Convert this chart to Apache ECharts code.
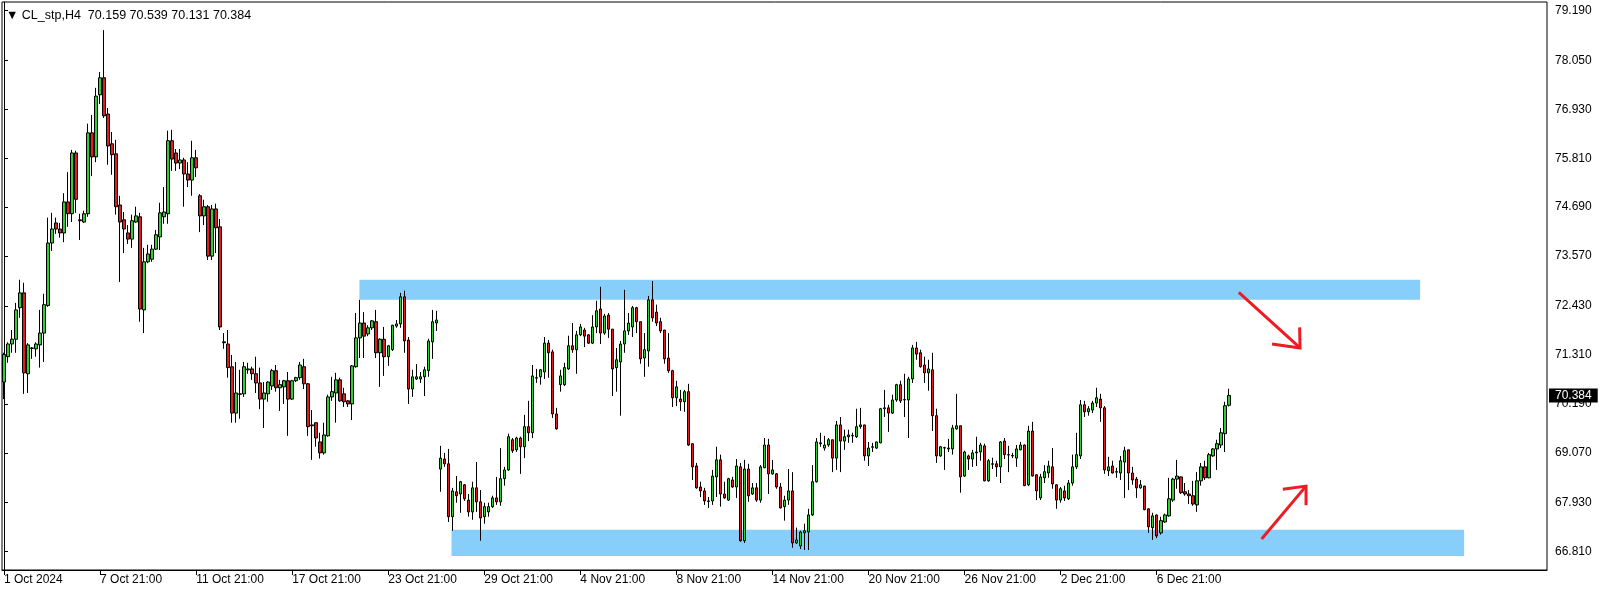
<!DOCTYPE html>
<html><head><meta charset="utf-8">
<script src="https://cdn.jsdelivr.net/npm/echarts@6/dist/echarts.min.js"></script>
<style>html,body{margin:0;padding:0;background:#fff}#c{width:1604px;height:594px}</style>
</head><body><div id="c"></div><script>
const symbolName = 'CL_stp', timeframe = 'H4';
const tickLabels = ['1 Oct 2024','7 Oct 21:00','11 Oct 21:00','17 Oct 21:00','23 Oct 21:00','29 Oct 21:00','4 Nov 21:00','8 Nov 21:00','14 Nov 21:00','20 Nov 21:00','26 Nov 21:00','2 Dec 21:00','6 Dec 21:00'];
const barsPerLabel = 24;
const priceTicks = [79.19, 78.05, 76.93, 75.81, 74.69, 73.57, 72.43, 71.31, 70.19, 69.07, 67.93, 66.81];

const opens = [
70.69,71.27,71.56,71.67,72.39,72.73,70.88,71.47,71.45,71.54,
71.81,72.44,73.87,74.33,74.19,74.10,74.81,74.54,75.93,74.40,
74.35,74.54,76.39,75.84,77.26,77.65,76.82,76.14,75.91,74.74,
74.40,74.10,73.96,74.35,74.47,72.34,73.44,73.50,73.73,74.01,
74.47,74.54,76.21,75.93,75.70,75.77,75.45,75.31,75.82,74.95,
74.49,74.70,73.57,74.65,74.24,71.61,71.56,71.04,69.98,70.42,
70.42,70.97,70.99,70.88,70.67,70.30,70.42,70.60,70.95,70.56,
70.58,70.72,70.30,70.72,70.79,71.04,70.65,69.69,69.76,69.32,
69.07,69.46,70.35,70.44,70.74,70.42,70.26,70.19,71.04,71.70,
72.04,71.79,71.93,72.07,71.36,71.67,71.27,71.43,71.97,72.02,
72.64,71.65,70.53,70.76,70.76,70.81,70.95,71.61,72.04,68.70,
68.93,68.82,67.61,68.18,68.13,68.34,67.99,67.72,68.27,67.95,
67.61,67.72,67.84,68.04,67.95,68.48,68.68,69.37,69.14,69.41,
69.21,69.67,69.53,70.79,70.81,70.92,71.58,71.38,69.96,70.63,
70.63,70.99,71.52,71.43,71.77,71.88,71.77,71.58,71.95,72.36,
71.81,72.22,71.90,71.02,71.15,71.56,71.86,71.95,72.39,72.07,
71.24,71.40,72.57,72.29,72.07,71.88,71.24,70.95,70.33,70.30,
70.24,70.47,69.28,68.77,68.29,68.20,67.97,67.97,68.52,68.91,
68.13,67.99,68.45,68.29,68.75,67.06,68.70,68.13,68.27,67.99,
68.73,69.25,68.59,68.59,68.29,67.84,67.99,68.20,67.01,66.94,
67.24,67.26,67.65,68.41,69.28,69.18,69.25,69.37,68.95,69.71,
69.34,69.44,69.46,69.44,69.67,69.71,69.00,69.21,69.18,69.30,
70.08,70.10,69.98,70.28,70.63,70.28,70.28,70.76,71.47,71.36,
71.08,70.90,70.97,69.92,69.00,69.18,69.16,69.16,69.62,69.69,
68.54,69.00,68.93,69.07,69.09,69.23,68.43,68.82,68.82,68.75,
69.34,69.03,69.00,68.95,69.14,69.25,68.34,69.57,68.57,68.04,
68.50,68.61,68.75,68.34,67.99,68.20,68.02,68.38,68.75,69.00,
70.17,70.01,70.05,70.21,70.30,70.10,68.66,68.77,68.64,68.61,
68.86,69.14,68.61,68.47,68.27,68.31,67.79,67.36,67.65,67.24,
67.49,67.63,67.99,68.47,68.52,68.18,68.13,68.09,67.88,68.43,
68.75,68.50,69.00,69.16,69.25,69.51,70.159];

const closes = [
71.32,71.56,71.67,72.34,72.73,70.90,71.54,71.46,71.56,71.81,
72.46,73.87,74.19,74.19,74.10,74.81,74.54,75.93,74.87,74.38,
74.54,76.39,75.84,77.23,77.65,76.78,76.09,75.89,74.70,74.35,
74.19,73.96,74.38,74.49,72.36,73.44,73.62,73.73,74.06,74.56,
74.58,76.21,75.79,75.70,75.77,75.45,75.31,75.82,75.59,74.49,
74.70,73.57,74.65,74.22,71.95,71.59,71.02,69.98,70.44,70.41,
71.04,70.99,70.88,70.67,70.30,70.44,70.69,70.95,70.56,70.63,
70.72,70.30,70.72,70.79,71.08,70.65,69.67,69.71,69.41,69.07,
69.48,70.35,70.47,70.74,70.26,70.24,70.19,71.06,71.70,72.04,
71.74,71.93,72.09,71.36,71.67,71.27,71.52,71.99,72.02,72.64,
71.63,70.53,70.81,70.81,70.81,70.97,71.63,72.07,72.11,68.95,
68.82,67.61,68.20,68.09,68.41,68.02,67.72,68.27,67.95,67.58,
67.84,67.84,68.04,67.95,68.48,68.68,69.44,69.12,69.41,69.21,
69.67,69.53,70.83,70.78,70.97,71.58,71.36,69.96,69.62,70.83,
71.02,71.52,71.43,71.77,71.95,71.74,71.58,71.95,72.32,71.81,
72.20,71.90,70.99,71.20,71.56,71.86,72.04,72.39,72.07,71.22,
71.43,72.57,72.16,72.04,71.86,71.22,70.95,70.33,70.58,70.24,
70.47,69.25,68.75,68.27,68.20,67.97,67.96,68.54,68.91,68.13,
68.04,68.48,68.29,68.77,67.06,68.70,68.09,68.27,67.99,68.75,
69.25,68.59,68.68,68.29,67.81,67.99,68.20,67.01,67.08,67.26,
67.29,67.65,68.41,69.32,69.30,69.25,69.37,68.95,69.71,69.34,
69.44,69.48,69.47,69.67,69.71,69.00,69.18,69.20,69.32,70.08,
70.10,69.98,70.28,70.63,70.26,70.29,70.76,71.47,71.33,71.04,
70.90,70.99,69.92,69.00,69.21,69.19,69.18,69.64,69.69,68.52,
69.09,68.93,69.07,69.09,69.25,68.43,68.89,68.81,68.75,69.32,
69.03,69.02,69.01,69.16,69.25,68.32,69.57,68.54,68.20,68.52,
68.64,68.77,68.36,67.99,68.25,68.04,68.38,68.75,69.03,70.17,
70.01,70.08,70.21,70.33,70.10,68.68,68.75,68.61,68.63,68.89,
69.12,68.61,68.45,68.27,68.34,67.77,67.38,67.63,67.17,67.52,
67.65,68.02,68.47,68.54,68.16,68.13,68.09,67.90,68.43,68.75,
68.50,69.03,69.16,69.28,69.53,70.15,70.384];

const lows = [
70.30,71.13,71.36,71.36,72.16,70.42,70.44,71.22,71.27,71.02,
71.15,72.41,73.69,74.08,73.99,73.89,74.24,74.35,74.56,73.94,
74.33,74.47,75.40,75.72,77.05,76.73,75.66,75.43,74.52,72.98,
73.64,73.85,73.76,74.33,72.07,71.81,73.41,73.44,73.71,73.71,
74.31,74.31,75.52,75.52,75.56,74.70,75.15,74.95,75.38,74.12,
74.28,73.48,73.48,73.64,71.88,71.45,70.79,69.76,69.76,69.85,
70.35,70.88,70.74,70.44,70.07,69.64,70.24,70.51,70.47,70.03,
70.19,69.46,70.28,70.69,70.74,70.53,69.46,68.91,69.21,68.94,
69.03,69.44,70.26,69.76,70.24,70.12,70.12,69.82,71.02,71.24,
71.24,71.74,71.88,71.24,70.58,70.83,71.06,71.40,71.93,71.93,
71.36,70.19,70.35,70.74,70.67,70.37,70.81,71.22,71.86,68.18,
68.75,67.49,67.29,67.93,67.70,67.97,67.61,67.54,67.72,67.06,
67.45,67.61,67.81,67.88,67.86,68.32,68.66,69.07,69.09,68.59,
68.95,69.34,69.41,70.67,70.63,70.76,70.79,69.87,69.60,70.47,
70.60,70.97,71.36,70.88,71.74,71.49,71.56,71.56,71.81,71.56,
71.77,71.70,70.37,70.47,69.92,71.36,71.77,71.72,71.81,71.11,
70.81,71.04,72.07,71.97,71.81,71.11,70.90,70.12,70.14,70.03,
70.01,69.23,68.45,68.25,68.06,67.88,67.81,67.88,68.06,67.84,
68.02,67.97,68.27,68.04,67.04,67.01,67.95,68.11,67.95,67.93,
68.72,68.13,68.57,68.25,67.80,67.52,67.88,66.90,66.99,66.87,
66.85,66.85,67.63,68.39,69.21,69.12,69.21,68.63,68.68,68.63,
69.14,69.30,69.30,69.41,69.62,68.89,68.77,69.09,69.16,69.29,
69.89,69.55,69.96,70.24,70.21,69.89,69.41,70.67,71.20,71.02,
70.67,70.49,69.57,68.84,68.98,68.68,69.09,69.03,69.60,68.16,
68.52,68.68,68.75,68.77,68.89,68.42,68.41,68.70,68.52,68.38,
68.93,68.63,68.95,68.75,69.13,68.31,68.31,68.53,67.99,67.99,
68.38,68.50,68.25,67.79,67.93,67.97,67.99,68.32,68.70,68.93,
69.89,69.92,69.98,70.12,69.78,68.59,68.54,68.60,68.50,68.45,
68.04,68.22,68.34,68.04,68.25,67.76,67.24,67.08,67.12,67.20,
67.47,67.61,67.95,68.25,68.13,68.09,67.90,67.86,67.72,68.32,
68.45,68.49,68.98,68.68,69.18,69.09,70.131];

const highs = [
71.36,71.60,71.88,72.50,73.03,72.96,71.58,71.49,71.60,72.34,
72.71,74.45,74.56,74.45,74.33,75.01,75.49,76.00,75.98,74.54,
74.61,76.60,76.80,77.42,77.78,78.74,76.96,76.41,76.23,74.95,
74.58,74.28,74.52,74.70,74.56,73.76,73.83,73.83,74.17,74.79,
75.15,76.44,76.46,76.02,76.02,75.82,75.72,76.21,76.00,74.99,
74.86,74.74,74.74,74.77,74.42,71.81,71.88,71.31,71.15,70.97,
71.15,71.13,71.04,71.27,71.02,70.69,70.71,70.99,71.08,70.74,
70.74,70.92,70.74,70.81,71.15,71.22,70.67,70.05,69.76,69.53,
69.76,70.40,70.81,70.90,70.79,70.56,70.28,71.08,72.27,72.57,
72.29,71.99,72.11,72.34,71.69,71.95,71.54,72.00,72.11,72.73,
72.78,71.72,70.97,71.10,70.92,71.04,71.68,72.34,72.32,69.23,
69.07,69.16,68.27,68.54,68.43,68.36,68.13,68.41,68.86,68.22,
67.93,67.93,68.09,68.52,69.18,68.75,69.51,69.41,69.44,69.44,
69.94,70.26,71.08,70.99,70.99,71.72,71.65,71.43,70.10,70.97,
71.13,71.75,72.04,71.86,72.02,71.93,71.79,72.22,72.55,72.87,
72.25,72.27,71.90,71.47,71.63,72.80,72.27,72.43,72.41,72.07,
71.81,72.66,73.00,72.46,72.16,71.88,71.81,70.97,70.72,70.51,
70.51,70.65,69.28,68.84,68.41,68.27,68.06,68.68,69.21,69.03,
68.41,68.50,68.52,68.93,68.84,68.91,68.82,68.38,68.38,68.79,
69.41,69.39,68.91,68.61,68.38,68.09,68.70,68.63,67.36,67.29,
67.45,67.79,68.79,69.41,69.53,69.46,69.41,69.37,69.80,69.89,
69.60,69.60,69.53,70.08,70.10,69.71,69.32,69.30,69.33,70.10,
70.51,70.17,70.40,70.65,70.72,70.88,70.81,71.54,71.61,71.43,
71.27,71.20,71.36,70.08,69.23,69.21,69.39,69.71,70.42,69.69,
69.12,69.03,69.14,69.44,69.30,69.28,68.93,68.96,68.89,69.34,
69.41,69.23,69.07,69.25,69.32,69.26,69.69,69.78,68.58,68.59,
68.79,68.89,69.18,68.35,68.29,68.32,68.45,69.03,69.53,70.28,
70.26,70.14,70.26,70.56,70.42,70.14,68.98,68.89,68.73,69.00,
69.21,69.14,68.75,68.52,68.45,68.32,67.80,67.70,67.66,67.61,
67.68,68.50,68.50,68.91,68.53,68.38,68.22,68.43,68.63,68.84,
68.89,69.07,69.18,69.37,69.64,70.24,70.539];

// supply / demand zones: [fromBar, toBar, upperPrice, lowerPrice]
const zoneFrom = [88.8, 111.8];
const zoneTo = [353.8, 364.8];
const zoneTop = [73.03, 67.31];
const zoneBottom = [72.57, 66.71];
// arrows: tail (bar, price), tip (bar, price), head wing 1, head wing 2
const arrowTail = [[308.5, 72.74], [314.2, 67.10]];
const arrowTip = [[323.8, 71.47], [325.3, 68.31]];
const arrowWingA = [[316.8, 71.56], [319.5, 68.24]];
const arrowWingB = [[323.7, 71.94], [325.3, 67.87]];

const totalSlots = 386;
const categories = Array.from({length: totalSlots}, (_, i) =>
  (i % barsPerLabel === 0 && i / barsPerLabel < tickLabels.length) ? tickLabels[i / barsPerLabel] : '');
const candleData = opens.map((o, i) => [o, closes[i], lows[i], highs[i]]);
const zoneData = zoneFrom.map((f, i) => [f, zoneTop[i], zoneTo[i], zoneBottom[i]]);
const arrowData = arrowTail.map((t, i) => [t[0], t[1], arrowTip[i][0], arrowTip[i][1], arrowWingA[i][0], arrowWingA[i][1], arrowWingB[i][0], arrowWingB[i][1]]);
const lastIdx = opens.length - 1;
const fmt = v => v.toFixed(3);
const showTick = (idx, val) => val !== '';
const FONT = 'Liberation Sans';

const chart = echarts.init(document.getElementById('c'), null, {renderer: 'canvas'});
chart.setOption({
  animation: false,
  backgroundColor: '#fff',
  title: {
    text: '\u25BC ' + symbolName + ',' + timeframe + '  ' + [opens[lastIdx], highs[lastIdx], lows[lastIdx], closes[lastIdx]].map(fmt).join(' '),
    left: 1, top: 4,
    textStyle: {fontSize: 12.5, fontWeight: 'normal', color: '#000', fontFamily: FONT}
  },
  grid: {left: 2, top: 2, right: 57, bottom: 24, show: true, borderColor: '#000', borderWidth: 1, backgroundColor: '#fff'},
  xAxis: [{
    type: 'category', data: categories, boundaryGap: true,
    axisLine: {show: true, lineStyle: {color: '#000', width: 1}},
    axisTick: {show: true, alignWithLabel: true, interval: showTick, length: 5, lineStyle: {color: '#000'}},
    axisLabel: {interval: showTick, align: 'left', margin: 4, color: '#000', fontSize: 12, fontFamily: FONT},
    splitLine: {show: false}
  }, {
    type: 'value', min: -0.5, max: totalSlots - 0.5, show: false
  }],
  yAxis: {
    type: 'value', position: 'right', min: 66.391, max: 79.383, scale: true,
    axisLine: {show: true, lineStyle: {color: '#000', width: 1}},
    axisTick: {show: true, length: 4, customValues: priceTicks, lineStyle: {color: '#000'}},
    axisLabel: {customValues: priceTicks, formatter: fmt, margin: 8, color: '#000', fontSize: 12, fontFamily: FONT},
    splitLine: {show: false}
  },
  series: [{
    type: 'custom', name: 'zones', xAxisIndex: 1, z: 1, silent: true,
    data: zoneData, encode: {x: [0, 2], y: [1, 3]},
    renderItem: (params, api) => {
      const p1 = api.coord([api.value(0), api.value(1)]);
      const p2 = api.coord([api.value(2), api.value(3)]);
      return {type: 'rect', shape: {x: p1[0], y: p1[1], width: p2[0] - p1[0], height: p2[1] - p1[1]}, style: {fill: '#87cefa'}};
    }
  }, {
    type: 'candlestick', name: symbolName, xAxisIndex: 0, z: 3, barWidth: 3,
    data: candleData,
    itemStyle: {color: '#32cd32', color0: '#dc1e1e', borderColor: '#000', borderColor0: '#000', borderColorDoji: '#000', borderWidth: 1},
    markLine: {
      silent: true, symbol: 'none', animation: false, z: 10,
      data: [{yAxis: closes[lastIdx]}],
      lineStyle: {color: 'rgba(0,0,0,0)', width: 0, type: 'solid'},
      label: {show: true, position: 'end', distance: 2, formatter: fmt(closes[lastIdx]), color: '#fff', backgroundColor: '#000',
        opacity: 1, padding: [1, 6, 1, 6], fontSize: 12, fontFamily: FONT}
    }
  }, {
    type: 'custom', name: 'arrows', xAxisIndex: 1, z: 4, silent: true,
    data: arrowData, encode: {x: [0, 2, 4, 6], y: [1, 3, 5, 7]},
    renderItem: (params, api) => {
      const a = api.coord([api.value(0), api.value(1)]);
      const b = api.coord([api.value(2), api.value(3)]);
      const h1 = api.coord([api.value(4), api.value(5)]);
      const h2 = api.coord([api.value(6), api.value(7)]);
      const st = {stroke: '#ec1c24', lineWidth: 3, fill: null};
      return {type: 'group', children: [
        {type: 'line', shape: {x1: a[0], y1: a[1], x2: b[0], y2: b[1]}, style: st},
        {type: 'polyline', shape: {points: [h1, b, h2]}, style: st}
      ]};
    }
  }]
});
</script></body></html>
